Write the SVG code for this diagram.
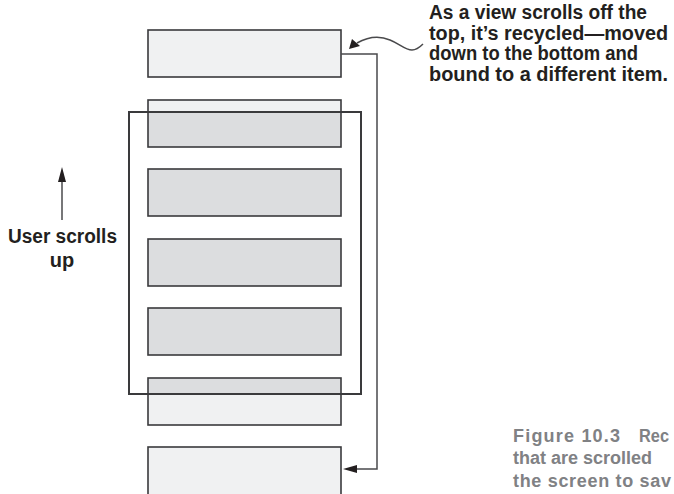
<svg xmlns="http://www.w3.org/2000/svg" width="674" height="494" viewBox="0 0 674 494">
  <style>
    .box { stroke: #3a3a3c; stroke-width: 1.6; }
    .light { fill: #f0f1f2; }
    .gray { fill: #dcdddf; }
    .nofill { fill: none; }
    .screen { fill: none; stroke: #3a3a3c; stroke-width: 2; }
    .conn { fill: none; stroke: #4a4a4c; stroke-width: 1.5; }
    .head { fill: #231f20; }
    .lbl { font-family: "Liberation Sans", Arial, sans-serif; font-weight: bold; fill: #231f20; }
    .cap { font-family: "Liberation Sans", Arial, sans-serif; font-weight: bold; fill: #808184; font-size: 18px; }
  </style>
  <rect width="674" height="494" fill="#ffffff"/>

  <g id="item1">
    <rect class="box light" x="148" y="30" width="193" height="47"/>
  </g>
  <g id="item2">
    <rect class="light" x="148" y="100" width="193" height="47"/>
    <rect class="gray" x="148" y="112" width="193" height="35"/>
    <rect class="box nofill" x="148" y="100" width="193" height="47"/>
  </g>
  <g id="item3">
    <rect class="box gray" x="148" y="169" width="193" height="47"/>
  </g>
  <g id="item4">
    <rect class="box gray" x="148" y="239" width="193" height="47"/>
  </g>
  <g id="item5">
    <rect class="box gray" x="148" y="308" width="193" height="47"/>
  </g>
  <g id="item6">
    <rect class="light" x="148" y="378" width="193" height="47"/>
    <rect class="gray" x="148" y="378" width="193" height="16"/>
    <rect class="box nofill" x="148" y="378" width="193" height="47"/>
  </g>
  <g id="item7">
    <rect class="box light" x="148" y="447" width="193" height="60"/>
  </g>
  <g id="screen">
    <rect class="screen" x="129" y="112" width="232" height="282"/>
  </g>

  <g id="connectors">
    <path class="conn" d="M341,54 H377 V469 H356"/>
    <polygon class="head" points="343,469 357,465 357,473"/>
    <path class="conn" d="M357,43 C366,38 378,35 390,40 C400,44 405,50 412,50 C417,50 420,47 423,44"/>
    <polygon class="head" points="349,49 352,39 360,46"/>
    <line class="conn" x1="62" y1="180" x2="62" y2="220"/>
    <polygon class="head" points="62,167 58,182 66,182"/>
  </g>

  <g id="callout">
    <text class="lbl" font-size="20" x="429" y="19" textLength="218" lengthAdjust="spacingAndGlyphs">As a view scrolls off the</text>
    <text class="lbl" font-size="20" x="429" y="40" textLength="239" lengthAdjust="spacingAndGlyphs">top, it’s recycled—moved</text>
    <text class="lbl" font-size="20" x="429" y="60" textLength="209" lengthAdjust="spacingAndGlyphs">down to the bottom and</text>
    <text class="lbl" font-size="20" x="429" y="81" textLength="239" lengthAdjust="spacingAndGlyphs">bound to a different item.</text>
  </g>
  <g id="scroll-label">
    <text class="lbl" font-size="20" x="8" y="243" textLength="109" lengthAdjust="spacingAndGlyphs">User scrolls</text>
    <text class="lbl" font-size="20" x="62" y="267" text-anchor="middle">up</text>
  </g>
  <g id="caption">
    <text class="cap" x="513" y="442" textLength="107">Figure 10.3</text>
    <text class="cap" x="639" y="442" textLength="30" lengthAdjust="spacingAndGlyphs">Rec</text>
    <text class="cap" x="513" y="464" textLength="139">that are scrolled</text>
    <text class="cap" x="513" y="487" textLength="158">the screen to sav</text>
  </g>
</svg>
